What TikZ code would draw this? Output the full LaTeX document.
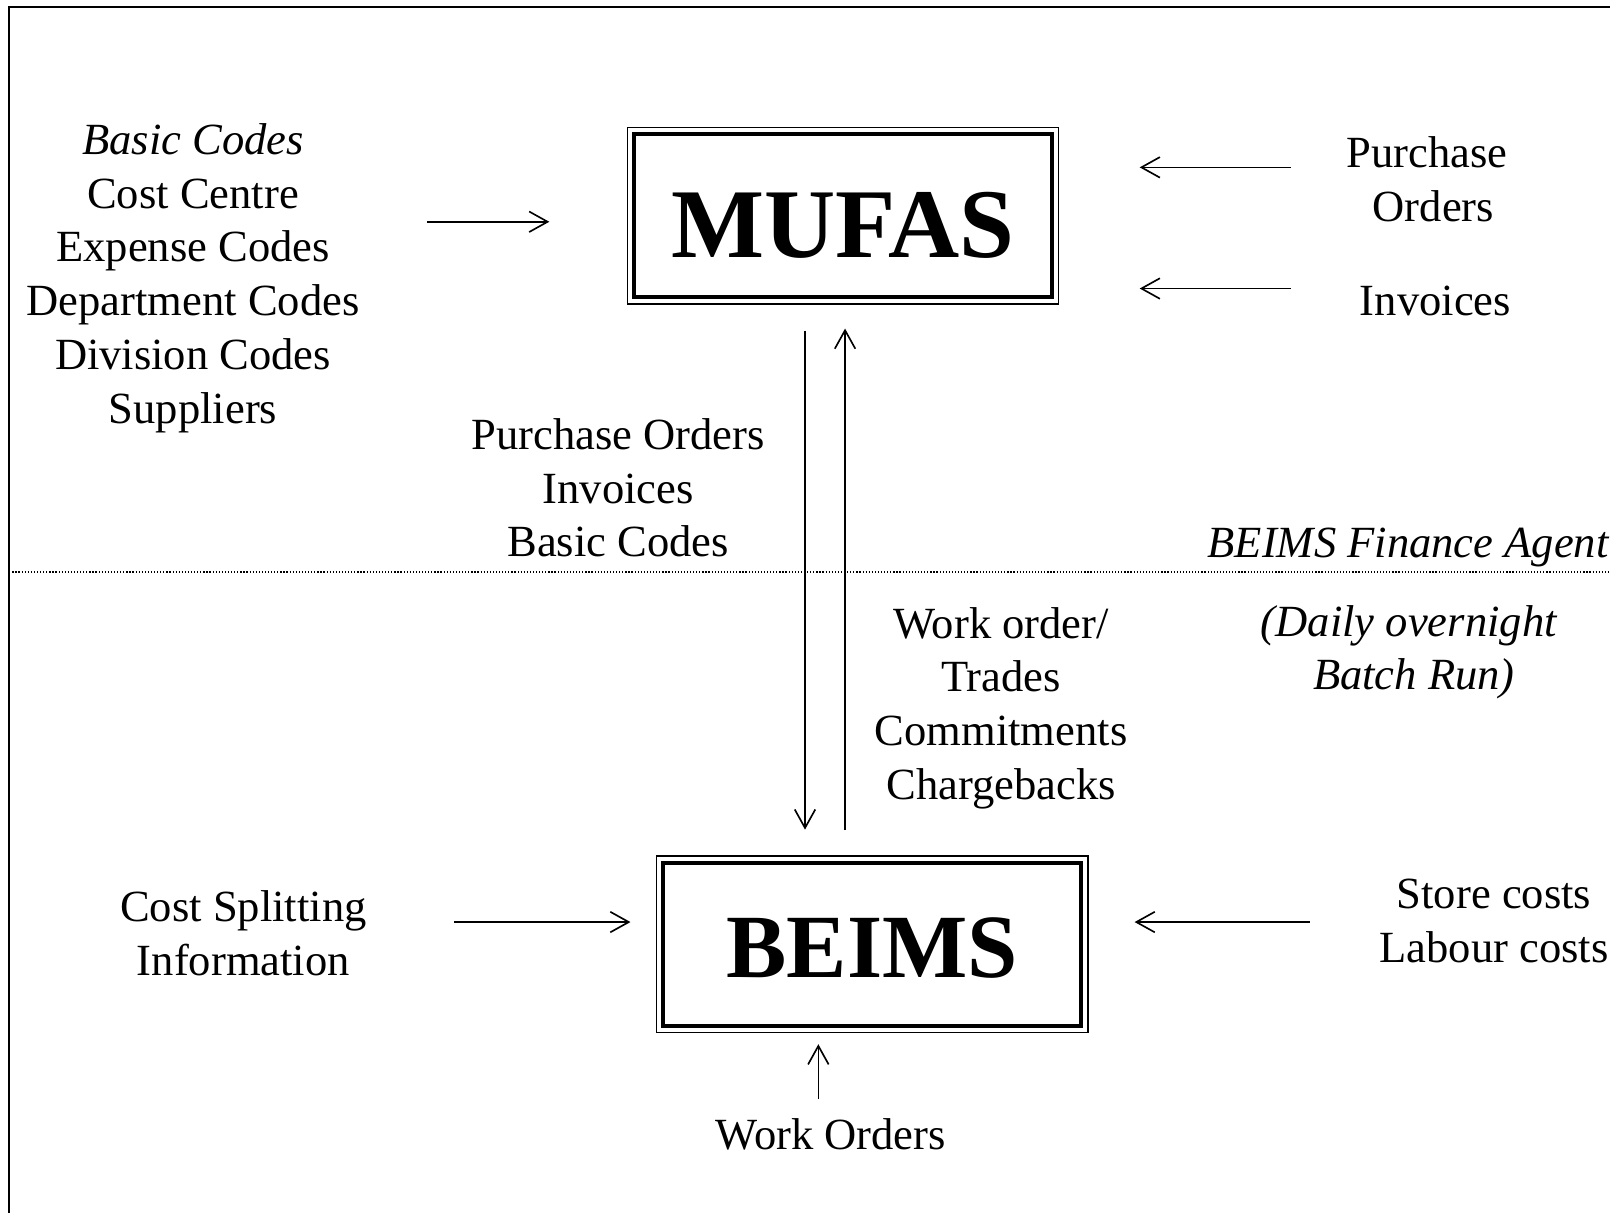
\documentclass[tikz,border=0pt]{standalone}
\usepackage{fontspec}
\setmainfont{Liberation Serif}
\usetikzlibrary{arrows.meta}

\begin{document}
\begin{tikzpicture}[x=0.5pt, y=-0.5pt,
    box/.style={draw, line width=2pt, minimum width=203.4pt, minimum height=79.4pt, inner sep=0pt, text depth=0pt},
    txt/.style={anchor=base, inner sep=0pt, font=\fontsize{21.7}{26.2}\selectfont},
    flow/.style={-{Straight Barb[length=9pt,width=10pt,line width=0.8pt]}, line width=0.8pt}
]
    \useasboundingbox (0,0) rectangle (1568,1181);

    % Frame and agent boundary
    \draw[line width=1pt] (9,1181) -- (9,7) -- (1568,7);
    \draw[line width=0.6pt, dash pattern=on 0.6pt off 0.9pt] (9,557) -- (1568,557);

    % Systems
    \node [box, text height=41pt, font=\fontsize{48}{50}\selectfont\bfseries] (mufas) at (821,210) {MUFAS};
    \node [box, text height=32.5pt, font=\fontsize{44}{46}\selectfont\bfseries] (beims) at (849.5,919.5) {BEIMS};
    \foreach \b in {mufas, beims}
        \draw[line width=0.7pt] ([shift={(-2.3pt,2.3pt)}]\b.north west) rectangle ([shift={(2.3pt,-2.3pt)}]\b.south east);

    % Left Side
    \foreach \i/\label in {0/\textit{Basic Codes}, 1/Cost Centre, 2/Expense Codes, 3/Department Codes, 4/Division Codes, 5/Suppliers}
        \node [txt] (codes-\i) at (188,150.2+\i*52.4) {\label};

    % Right Side
    \node [txt] (po-1) at (1390,163.5) {Purchase};
    \node [txt] (po-2) at (1396,215.9) {Orders};
    \node [txt] (inv) at (1398,307.5) {Invoices};

    % Between the systems
    \foreach \i/\label in {0/Purchase Orders, 1/Invoices, 2/Basic Codes}
        \node [txt] (down-\i) at (602,437.5+\i*52.4) {\label};
    \foreach \i/\label in {0/{Work order/}, 1/Trades, 2/Commitments, 3/Chargebacks}
        \node [txt] (up-\i) at (975,621.5+\i*52.4) {\label};
    \node [txt, anchor=base east, font=\fontsize{21.7}{26.2}\selectfont\itshape] (agent) at (1567,542.5) {BEIMS Finance Agent};
    \node [txt, font=\fontsize{21.7}{26.2}\selectfont\itshape] (batch-1) at (1372,619.5) {(Daily overnight};
    \node [txt, font=\fontsize{21.7}{26.2}\selectfont\itshape] (batch-2) at (1377,671.9) {Batch Run)};

    % Around BEIMS
    \node [txt] (split-1) at (237,897.5) {Cost Splitting};
    \node [txt] (split-2) at (237,949.9) {Information};
    \node [txt] (costs-1) at (1455,884.5) {Store costs};
    \node [txt] (costs-2) at (1455,936.9) {Labour costs};
    \node [txt] (wo) at (809,1119.5) {Work Orders};

    % Flows
    \coordinate (codes-s) at (416,216);
    \coordinate (codes-e) at (535,216);
    \coordinate (po-s) at (1257,163);
    \coordinate (po-e) at (1110,163);
    \coordinate (inv-s) at (1257,281);
    \coordinate (inv-e) at (1110,281);
    \coordinate (down-s) at (784,322);
    \coordinate (down-e) at (784,808);
    \coordinate (up-s) at (823,808);
    \coordinate (up-e) at (823,320);
    \coordinate (split-s) at (442,898);
    \coordinate (split-e) at (614,898);
    \coordinate (costs-s) at (1276,898);
    \coordinate (costs-e) at (1105,898);
    \coordinate (wo-s) at (797,1070);
    \coordinate (wo-e) at (797,1017);
    \foreach \f in {codes, po, inv, down, up, split, costs, wo}
        \draw[flow] (\f-s) -- (\f-e);
\end{tikzpicture}
\end{document}
